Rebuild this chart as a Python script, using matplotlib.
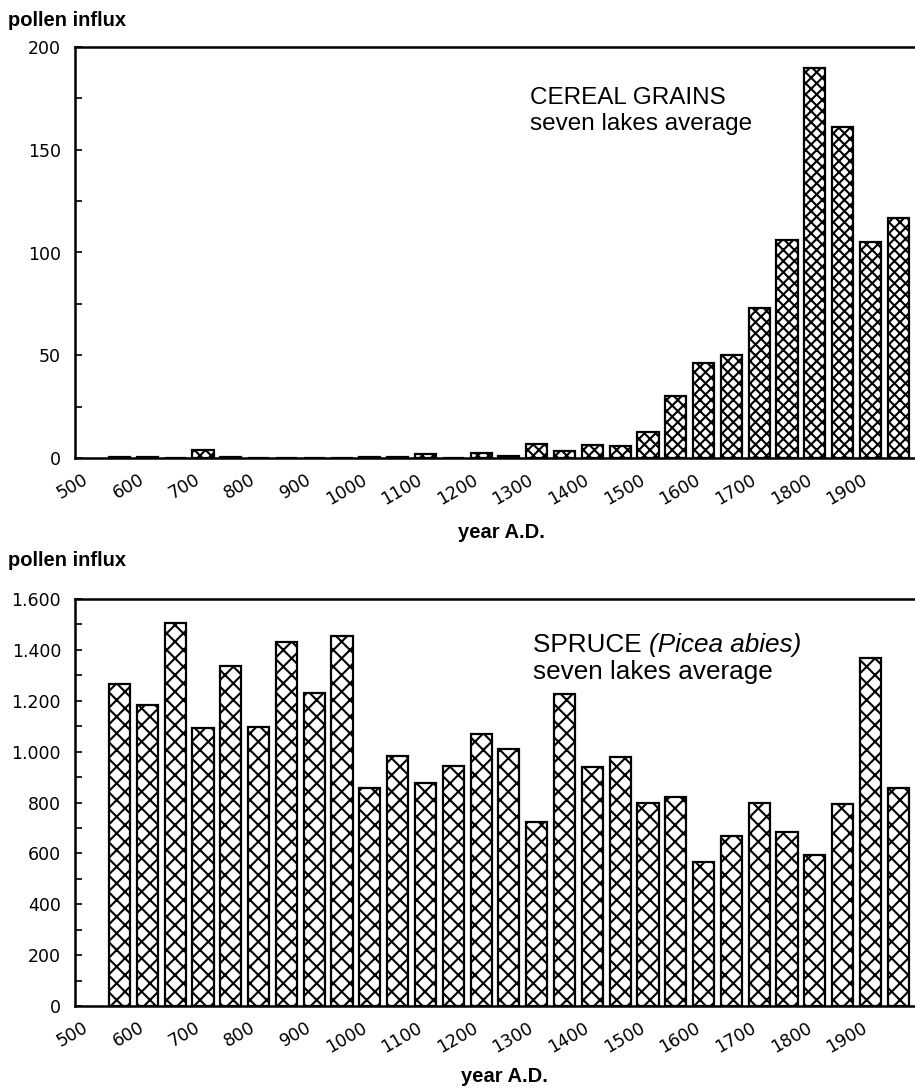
import matplotlib
matplotlib.use('Agg')
import matplotlib.pyplot as plt
from matplotlib.ticker import MultipleLocator

# ---- data ----
years = [550, 600, 650, 700, 750, 800, 850, 900, 950, 1000, 1050, 1100, 1150,
         1200, 1250, 1300, 1350, 1400, 1450, 1500, 1550, 1600, 1650, 1700,
         1750, 1800, 1850, 1900, 1950]
cereal = [0.3, 0.3, 0.2, 4, 0.3, 0.2, 0.1, 0.1, 0.1, 0.3, 0.5, 2, 0.2,
          2.5, 1, 7, 3.5, 6.5, 6, 12.5, 30, 46, 50, 73,
          106, 190, 161, 105, 117]
spruce = [1266, 1183, 1505, 1093, 1336, 1097, 1431, 1230, 1454, 857, 983, 877, 943,
          1069, 1010, 723, 1226, 940, 979, 798, 822, 566, 668, 798,
          684, 594, 794, 1368, 857]
xtick_vals = [500, 600, 700, 800, 900, 1000, 1100, 1200, 1300, 1400, 1500,
              1600, 1700, 1800, 1900]
xtick_labels = ['500', '600', '700', '800', '900', '1000', '1100', '1200', '1300',
                '1400', '1500', '1600', '1700', '1800', '1900']
cereal_yticks = [0, 50, 100, 150, 200]
cereal_ylabels = ['0', '50', '100', '150', '200']
spruce_yticks = [0, 200, 400, 600, 800, 1000, 1200, 1400, 1600]
spruce_ylabels = ['0', '200', '400', '600', '800', '1.000', '1.200', '1.400', '1.600']

plt.rcParams['hatch.linewidth'] = 1.5
W, H = 915, 1090
fig = plt.figure(figsize=(W / 100, H / 100), dpi=100)


def rect(l, t, r, b):
    return [l / W, 1 - b / H, (r - l) / W, (b - t) / H]


ax1 = fig.add_axes(rect(75, 47, 915, 458))
ax2 = fig.add_axes(rect(75, 599, 915, 1006))

tick_font = dict(family='DejaVu Sans', size=12.5)
lab_font = dict(family='Liberation Sans', weight='bold', size=14.5)

for ax, vals, yt, yl, minor, hatch in [(ax1, cereal, cereal_yticks, cereal_ylabels, 25, 'xxx'),
                                       (ax2, spruce, spruce_yticks, spruce_ylabels, 100, 'xx')]:
    ax.bar(years, vals, width=38, color='white', edgecolor='black',
           linewidth=1.6, hatch=hatch)
    ax.set_xlim(470, 1980)
    ax.set_ylim(yt[0], yt[-1])
    ax.set_xticks(xtick_vals)
    ax.set_xticklabels(xtick_labels, rotation=30, ha='right', va='top', **tick_font)
    ax.set_yticks(yt)
    ax.set_yticklabels(yl, **tick_font)
    ax.yaxis.set_minor_locator(MultipleLocator(minor))
    ax.tick_params(axis='x', length=0, pad=9)
    ax.tick_params(axis='y', which='both', direction='in', length=5, width=1.2, pad=10)
    ax.spines['right'].set_visible(False)
    for s in ['left', 'bottom', 'top']:
        ax.spines[s].set_linewidth(1.8)
    ax.set_xlabel('year A.D.', **lab_font)
    ax.xaxis.label.set_va('center')

ax1.xaxis.set_label_coords((501 - 75) / 840, -(533 - 458) / 411)
ax2.xaxis.set_label_coords((504 - 75) / 840, -(1077 - 1006) / 407)

fig.text(8 / W, 1 - 20 / H, 'pollen influx', ha='left', va='center', **lab_font)
fig.text(8 / W, 1 - 561 / H, 'pollen influx', ha='left', va='center', **lab_font)

ann = dict(family='Liberation Sans', size=17.5, va='baseline', ha='left')
fig.text(530 / W, 1 - 104 / H, 'CEREAL GRAINS', **ann)
fig.text(530 / W, 1 - 130 / H, 'seven lakes average', **ann)

ann2 = dict(family='Liberation Sans', size=18.8, va='baseline', ha='left')
t = fig.text(533 / W, 1 - 652 / H, 'SPRUCE ', **ann2)
fig.canvas.draw()
bb = t.get_window_extent()
fig.text(bb.x1 / W, 1 - 652 / H, '(Picea abies)', style='italic', **ann2)
fig.text(533 / W, 1 - 679 / H, 'seven lakes average', **ann2)

fig.savefig('out.png', dpi=100)
